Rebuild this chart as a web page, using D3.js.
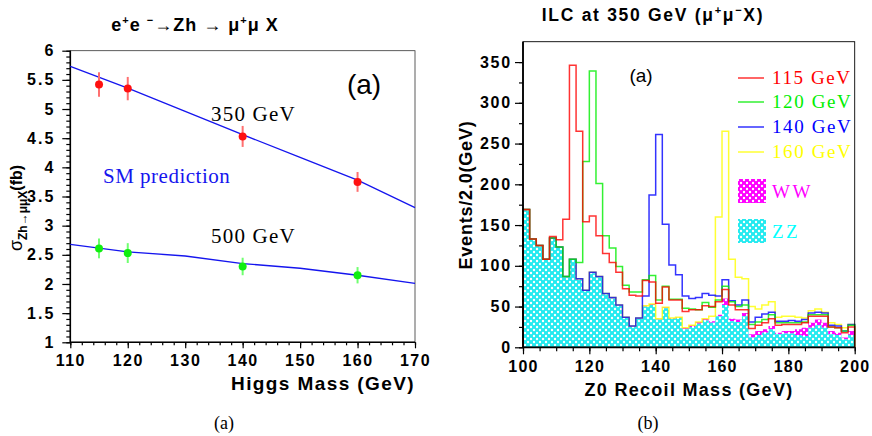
<!DOCTYPE html>
<html><head><meta charset="utf-8">
<script src="https://cdn.jsdelivr.net/npm/d3@7"></script>
<style>body{margin:0;background:#fff}svg{display:block}</style>
</head><body><svg id="c" width="872" height="436"></svg>
<script>
// ---------- Panel (a) data ----------
const higgsMass = [115, 120, 140, 160];
const xs350 = [5.42, 5.35, 4.53, 3.75];
const err350 = [0.21, 0.20, 0.18, 0.17];
const xs500 = [2.61, 2.53, 2.30, 2.15];
const err500 = [0.17, 0.17, 0.15, 0.14];
const smMass = [110, 120, 130, 140, 150, 160, 170];
const sm350 = [5.73, 5.36, 4.96, 4.56, 4.17, 3.78, 3.31];
const sm500 = [2.68, 2.55, 2.48, 2.35, 2.27, 2.15, 2.01];
const xTicksA = [110, 120, 130, 140, 150, 160, 170];
const yTicksA = [1, 1.5, 2, 2.5, 3, 3.5, 4, 4.5, 5, 5.5, 6];

// ---------- Panel (b) data (2 GeV bins, 100-200 GeV) ----------
const binLow = d3.range(100, 200, 2);
const zz = [168,132,124,107,133,122,86,107,83,69, 91,86,65,60,51,36,25,35,50,52,
            34,48,35,36,22,25,29,33,30,38, 52,32,31,38,12,15,18,22,16,17,
            17,15,14,24,27,24,16,15,10,15];
const ww = [1,1,1,1,1,1,1,1,1,1, 1,1,1,1,1,1,1,1,1,1,
            1,1,1,1,2,2,2,2,2,2, 8,3,3,4,4,5,4,4,2,3,
            3,7,10,6,7,6,4,3,2,5];
const h115 = [169,133,125,108,136,132,157,346,265,154, 161,137,115,104,92,72,64,63,82,80,
              54,74,58,58,44,46,46,51,50,56, 71,52,46,46,23,27,30,35,27,28,
              28,28,30,38,38,38,25,24,18,25];
const h120 = [169,133,125,108,134,123,87,108,104,228, 339,201,137,122,99,76,68,68,83,88,
              58,75,59,59,48,47,46,55,49,58, 75,56,50,52,28,31,34,40,30,30,
              30,30,31,40,40,40,25,24,20,27];
const h140 = [169,133,125,108,134,123,87,108,84,70, 92,87,66,61,52,37,26,36,63,187,
              261,151,101,89,63,60,61,66,64,63, 83,57,52,58,31,37,41,43,32,32,
              33,32,34,42,43,42,27,26,20,28];
const h160 = [169,133,125,108,134,123,87,108,84,70, 92,87,66,61,52,37,26,36,51,53,
              35,49,36,37,24,27,31,35,38,160, 265,108,86,84,50,47,52,56,37,38,
              38,37,36,45,47,43,30,28,24,28];
const signalNames = ["115 GeV", "120 GeV", "140 GeV", "160 GeV"];
const signalColors = ["#ff0000", "#00ee00", "#0000ff", "#ffff00"];
const xTicksB = [100, 120, 140, 160, 180, 200];
const yTicksB = [0, 50, 100, 150, 200, 250, 300, 350];

const svg = d3.select("#c");
const SANS = "'Liberation Sans', Arial, Helvetica, sans-serif";
const SERIF = "'Liberation Serif', 'Times New Roman', serif";

// patterns
const defs = svg.append("defs");
function hatch(id, col) {
  const p = defs.append("pattern").attr("id", id).attr("patternUnits", "userSpaceOnUse")
    .attr("width", 6).attr("height", 6);
  p.append("rect").attr("width", 6).attr("height", 6).attr("fill", col);
  [[0,0],[6,0],[0,6],[6,6],[3,3]].forEach(([cx,cy]) =>
    p.append("circle").attr("cx", cx).attr("cy", cy).attr("r", 1.2).attr("fill", "#fff"));
}
hatch("hzz", "#22eaf0");
hatch("hww", "#ff00ff");

function axisStyle(g, fs, ls) {
  g.select(".domain").remove();
  g.selectAll("line").attr("stroke", "#000").attr("stroke-width", 1.2);
  g.selectAll("text").attr("font-family", SANS).attr("font-weight", "bold")
    .attr("font-size", fs).attr("letter-spacing", ls).attr("fill", "#000");
}

// ================= Panel (a) =================
const xa = d3.scaleLinear().domain([110, 170]).range([70.3, 415]);
const ya = d3.scaleLinear().domain([1, 6]).range([342.3, 50.7]);
const A = svg.append("g");

A.append("rect").attr("x", xa(110)).attr("y", ya(6)).attr("width", xa(170) - xa(110))
  .attr("height", ya(1) - ya(6)).attr("fill", "none").attr("stroke", "#333").attr("stroke-width", 0.8);

A.append("g").attr("transform", `translate(${xa(110)},0)`)
  .call(d3.axisLeft(ya).tickValues(d3.range(1, 6.001, 0.1)).tickSize(4).tickFormat(""))
  .call(g => axisStyle(g, 15, 2));
A.append("g").attr("transform", `translate(${xa(110)},0)`)
  .call(d3.axisLeft(ya).tickValues(yTicksA).tickSize(8).tickPadding(7).tickFormat(d => d))
  .call(g => axisStyle(g, 16, 2));
A.append("g").attr("transform", `translate(0,${ya(1)})`)
  .call(d3.axisBottom(xa).tickValues(d3.range(110, 170.01, 2)).tickSize(3).tickFormat(""))
  .call(g => axisStyle(g, 15, 2));
A.append("g").attr("transform", `translate(0,${ya(1)})`)
  .call(d3.axisBottom(xa).tickValues(xTicksA).tickSize(6).tickPadding(6).tickFormat(d => d))
  .call(g => axisStyle(g, 16, 1.5));
A.append("line").attr("x1", xa(110)).attr("x2", xa(110)).attr("y1", ya(1)).attr("y2", ya(6))
  .attr("stroke", "#000").attr("stroke-width", 1.6);
A.append("line").attr("x1", xa(110)).attr("x2", xa(170)).attr("y1", ya(1)).attr("y2", ya(1))
  .attr("stroke", "#000").attr("stroke-width", 1.6);

const la = d3.line().x((d, i) => xa(smMass[i])).y(d => ya(d));
[sm350, sm500].forEach(s => A.append("path").attr("d", la(s)).attr("fill", "none")
  .attr("stroke", "#1515ee").attr("stroke-width", 1.3));

function points(vals, errs, col, ecol) {
  vals.forEach((v, i) => {
    A.append("line").attr("x1", xa(higgsMass[i])).attr("x2", xa(higgsMass[i]))
      .attr("y1", ya(v - errs[i])).attr("y2", ya(v + errs[i]))
      .attr("stroke", ecol).attr("stroke-width", 2);
    A.append("circle").attr("cx", xa(higgsMass[i])).attr("cy", ya(v)).attr("r", 4).attr("fill", col);
  });
}
points(xs350, err350, "#ff1010", "#ff7070");
points(xs500, err500, "#10ee10", "#70ff70");

A.append("text").attr("x", 211).attr("y", 121).text("350 GeV")
  .attr("font-family", SERIF).attr("font-size", 21).attr("letter-spacing", 1.2);
A.append("text").attr("x", 211).attr("y", 243).text("500 GeV")
  .attr("font-family", SERIF).attr("font-size", 21).attr("letter-spacing", 1.2);
A.append("text").attr("x", 103).attr("y", 183).text("SM prediction").attr("fill", "#1515ee")
  .attr("font-family", SERIF).attr("font-size", 21).attr("letter-spacing", 0.5);
A.append("text").attr("x", 364).attr("y", 94).attr("text-anchor", "middle").text("(a)")
  .attr("font-family", SANS).attr("font-size", 28);

// title
const ta = A.append("text").attr("x", 195).attr("y", 31).attr("text-anchor", "middle")
  .attr("font-family", SANS).attr("font-weight", "bold").attr("font-size", 18).attr("letter-spacing", 1);
ta.append("tspan").text("e");
ta.append("tspan").text("+").attr("dy", -7).attr("font-size", 11);
ta.append("tspan").text("e ").attr("dy", 7);
ta.append("tspan").text("−").attr("dy", -7).attr("font-size", 11);
ta.append("tspan").text("→Zh → μ").attr("dy", 7);
ta.append("tspan").text("+").attr("dy", -7).attr("font-size", 11);
ta.append("tspan").text("μ X").attr("dy", 7);

const yla = A.append("text").attr("transform", "translate(22,208) rotate(-90)")
  .attr("text-anchor", "middle").attr("font-family", SANS).attr("font-weight", "bold").attr("font-size", 16);
yla.append("tspan").text("σ").attr("font-weight", "normal").attr("font-size", 18);
yla.append("tspan").text("Zh→μμX").attr("dy", 5).attr("font-size", 12);
yla.append("tspan").text("(fb)").attr("dy", -5);

A.append("text").attr("x", 415).attr("y", 390).attr("text-anchor", "end").text("Higgs Mass (GeV)")
  .attr("font-family", SANS).attr("font-weight", "bold").attr("font-size", 19).attr("letter-spacing", 1.4);
A.append("text").attr("x", 224).attr("y", 429).attr("text-anchor", "middle").text("(a)")
  .attr("font-family", SERIF).attr("font-size", 18);

// ================= Panel (b) =================
const xb = d3.scaleLinear().domain([100, 200]).range([523, 854.7]);
const yb = d3.scaleLinear().domain([0, 375]).range([347.3, 41.7]);
const B = svg.append("g");

const stackZZ = binLow.map((x, i) => ({x, y0: 0, y1: zz[i]}));
const stackWW = binLow.map((x, i) => ({x, y0: zz[i], y1: zz[i] + ww[i]}));
function closeSteps(arr) { const l = arr[arr.length - 1]; return arr.concat([{...l, x: l.x + 2}]); }
const area = d3.area().curve(d3.curveStepAfter).x(d => xb(d.x)).y0(d => yb(d.y0)).y1(d => yb(d.y1));
B.append("path").attr("d", area(closeSteps(stackWW))).attr("fill", "url(#hww)");
B.append("path").attr("d", area(closeSteps(stackZZ))).attr("fill", "url(#hzz)");

const hl = d3.line().curve(d3.curveStepAfter).x(d => xb(d[0])).y(d => yb(d[1]));
function histPts(vals) {
  const pts = [[100, 0]];
  vals.forEach((v, i) => pts.push([binLow[i], v]));
  pts.push([200, vals[vals.length - 1]]);
  pts.push([200, 0]);
  return pts;
}
const hists = [h115, h120, h140, h160];
[3, 2, 1, 0].forEach(k => B.append("path").attr("d", hl(histPts(hists[k]))).attr("fill", "none")
  .attr("stroke", signalColors[k]).attr("stroke-width", 1.5).attr("stroke-opacity", 0.8));

B.append("rect").attr("x", xb(100)).attr("y", yb(375)).attr("width", xb(200) - xb(100))
  .attr("height", yb(0) - yb(375)).attr("fill", "none").attr("stroke", "#000").attr("stroke-width", 0.9);
B.append("g").attr("transform", `translate(${xb(100)},0)`)
  .call(d3.axisLeft(yb).tickValues(d3.range(0, 375, 25)).tickSize(4).tickFormat(""))
  .call(g => axisStyle(g, 15, 2));
B.append("g").attr("transform", `translate(${xb(100)},0)`)
  .call(d3.axisLeft(yb).tickValues(yTicksB).tickSize(8).tickPadding(3).tickFormat(d => d))
  .call(g => axisStyle(g, 16, 1.8));
B.append("g").attr("transform", `translate(0,${yb(0)})`)
  .call(d3.axisBottom(xb).tickValues(d3.range(100, 200.01, 5)).tickSize(4).tickFormat(""))
  .call(g => axisStyle(g, 15, 2));
B.append("g").attr("transform", `translate(0,${yb(0)})`)
  .call(d3.axisBottom(xb).tickValues(xTicksB).tickSize(7).tickPadding(6).tickFormat(d => d))
  .call(g => axisStyle(g, 16, 1.2));
B.append("line").attr("x1", xb(100)).attr("x2", xb(100)).attr("y1", yb(0)).attr("y2", yb(375))
  .attr("stroke", "#000").attr("stroke-width", 1.8);
B.append("line").attr("x1", xb(100)).attr("x2", xb(200)).attr("y1", yb(0)).attr("y2", yb(0))
  .attr("stroke", "#000").attr("stroke-width", 1.8);

B.append("text").attr("x", 641).attr("y", 82).attr("text-anchor", "middle").text("(a)")
  .attr("font-family", SANS).attr("font-size", 19);

const legY = [78, 102, 127, 152];
signalNames.forEach((n, k) => {
  B.append("line").attr("x1", 738).attr("x2", 764).attr("y1", legY[k]).attr("y2", legY[k])
    .attr("stroke", signalColors[k]).attr("stroke-width", 1.5).attr("stroke-opacity", 0.8);
  B.append("text").attr("x", 772).attr("y", legY[k] + 6).text(n).attr("fill", signalColors[k])
    .attr("font-family", SERIF).attr("font-size", 19).attr("letter-spacing", 1.6);
});
B.append("rect").attr("x", 738).attr("y", 179).attr("width", 28).attr("height", 24).attr("fill", "url(#hww)");
B.append("text").attr("x", 772).attr("y", 198).text("WW").attr("fill", "#ff00ff")
  .attr("font-family", SERIF).attr("font-size", 19).attr("letter-spacing", 2.5);
B.append("rect").attr("x", 738).attr("y", 219).attr("width", 28).attr("height", 24).attr("fill", "url(#hzz)");
B.append("text").attr("x", 772).attr("y", 238).text("ZZ").attr("fill", "#00ffff")
  .attr("font-family", SERIF).attr("font-size", 19).attr("letter-spacing", 2.5);

const tb = B.append("text").attr("x", 653).attr("y", 21).attr("text-anchor", "middle")
  .attr("font-family", SANS).attr("font-weight", "bold").attr("font-size", 17.5).attr("letter-spacing", 1.7);
tb.append("tspan").text("ILC at 350 GeV (μ");
tb.append("tspan").text("+").attr("dy", -7).attr("font-size", 11);
tb.append("tspan").text("μ").attr("dy", 7);
tb.append("tspan").text("−").attr("dy", -7).attr("font-size", 11);
tb.append("tspan").text("X)").attr("dy", 7);

B.append("text").attr("transform", "translate(472,195) rotate(-90)").attr("text-anchor", "middle")
  .text("Events/2.0(GeV)").attr("font-family", SANS).attr("font-weight", "bold")
  .attr("font-size", 18).attr("letter-spacing", 0.8);
B.append("text").attr("x", 689).attr("y", 396).attr("text-anchor", "middle").text("Z0 Recoil Mass (GeV)")
  .attr("font-family", SANS).attr("font-weight", "bold").attr("font-size", 18).attr("letter-spacing", 1.3);
B.append("text").attr("x", 648).attr("y", 429).attr("text-anchor", "middle").text("(b)")
  .attr("font-family", SERIF).attr("font-size", 18);
</script></body></html>
